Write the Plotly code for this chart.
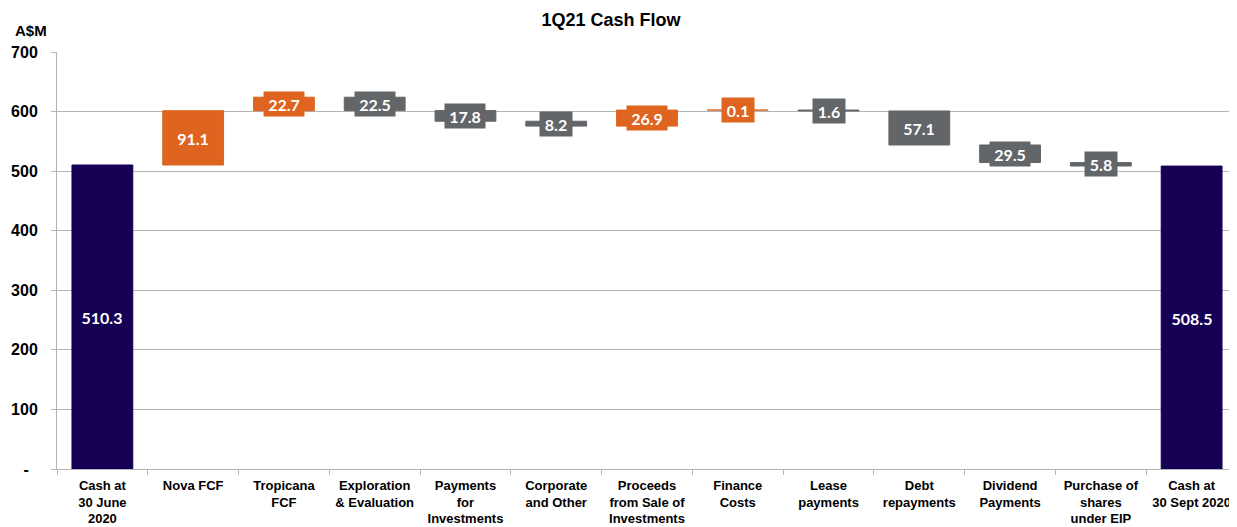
import plotly.graph_objects as go

categories = ["Cash at<br>30 June<br>2020", "Nova FCF", "Tropicana<br>FCF", "Exploration<br>& Evaluation",
              "Payments<br>for<br>Investments", "Corporate<br>and Other", "Proceeds<br>from Sale of<br>Investments",
              "Finance<br>Costs", "Lease<br>payments", "Debt<br>repayments", "Dividend<br>Payments",
              "Purchase of<br>shares<br>under EIP", "Cash at<br>30 Sept 2020"]
values = [510.3, 91.1, 22.7, -22.5, -17.8, -8.2, 26.9, 0.1, -1.6, -57.1, -29.5, -5.8, 508.5]
measures = ["absolute"] + ["relative"] * 11 + ["absolute"]
y_ticks = [0, 100, 200, 300, 400, 500, 600, 700]
y_ticktext = ["-\u00a0\u00a0", "100", "200", "300", "400", "500", "600", "700"]

NAVY = "#160055"
ORANGE = "#DE641F"
GREY = "#636669"

# page body has an 8px margin; figure is sized so it ends at the window edge
OFF = 8
W, H = 1237 - OFF, 527 - OFF
L, T, B = 57 - OFF, 52 - OFF, 527 - 469.5
PLOT_H = H - T - B
PLOT_W = W - L

fig = go.Figure()
fig.add_trace(go.Waterfall(
    x=categories, y=values, measure=measures,
    width=0.67,
    connector=dict(visible=False),
    increasing=dict(marker=dict(color=ORANGE, line=dict(color=ORANGE, width=1))),
    decreasing=dict(marker=dict(color=GREY, line=dict(color=GREY, width=1))),
    totals=dict(marker=dict(color=NAVY, line=dict(color=NAVY, width=1))),
    showlegend=False, hoverinfo="skip",
))

# label boxes
running = 0.0
for cat, v, m in zip(categories, values, measures):
    if m == "absolute":
        mid = v / 2
        col = NAVY
        running = v
    else:
        mid = running + v / 2
        running += v
        col = ORANGE if v >= 0 else GREY
    txt = f"{abs(v):.1f}"
    fig.add_annotation(
        x=cat, y=mid, xref="x", yref="y", text=f"<b>{txt}</b>", showarrow=False,
        font=dict(family="Lato", size=16, color="white"),
        bgcolor=col, width=32 if len(txt) == 3 else 40, height=24, borderpad=0,
        xanchor="center", yanchor="middle",
    )

fig.add_annotation(x=(31 - 57) / PLOT_W, y=1 + 22 / PLOT_H, xref="paper", yref="paper",
                   text="<b>A$M</b>", showarrow=False, xanchor="center", yanchor="middle",
                   font=dict(family="Liberation Sans", size=15, color="black"))

fig.update_layout(
    width=W, height=H,
    margin=dict(l=L, r=0, t=T, b=B, autoexpand=False),
    plot_bgcolor="white", paper_bgcolor="white",
    title=dict(text="<b>1Q21 Cash Flow</b>", x=(611 - OFF) / W, xanchor="center", y=1 - (20 - OFF) / H,
               yanchor="middle", font=dict(family="Liberation Sans", size=18, color="black")),
    xaxis=dict(type="category", showline=True, linecolor="#B4B4B4", linewidth=1,
               ticks="outside", tickson="boundaries", ticklen=5, tickcolor="#B4B4B4", tickangle=0,
               tickfont=dict(family="Liberation Sans", size=13, color="black", weight="bold"),
               ticklabelstandoff=4,
               showgrid=False, fixedrange=True, automargin=False),
    yaxis=dict(range=[0, 700], tickvals=y_ticks, ticktext=y_ticktext, showgrid=True,
               gridcolor="#B4B4B4", gridwidth=1, showline=True, linecolor="#B4B4B4",
               ticks="outside", ticklen=5, tickcolor="#B4B4B4", zeroline=False,
               tickfont=dict(family="Liberation Sans", size=16, color="black", weight="bold"),
               ticklabelstandoff=10, automargin=False),
)

fig.write_html("out.html")
